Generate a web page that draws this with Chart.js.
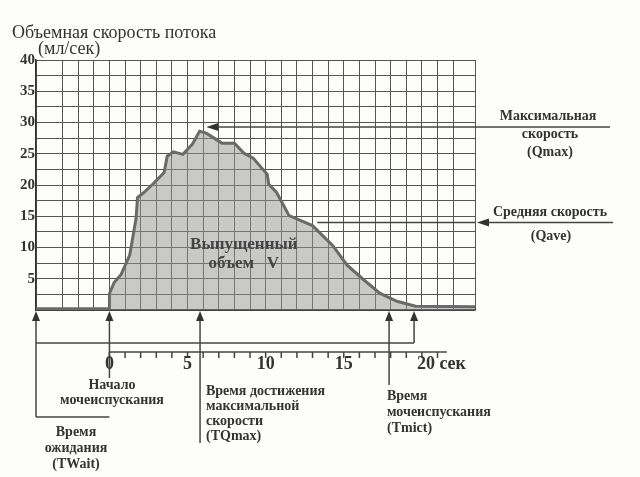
<!DOCTYPE html>
<html><head><meta charset="utf-8">
<script src="https://cdn.jsdelivr.net/npm/chart.js@4"></script>
<style>body{margin:0;background:#fdfdfb}canvas{display:block}</style>
</head><body>
<div style="width:640px;height:477px"><canvas id="c"></canvas></div>
<script>
const times=[-4.7,0,0,0.3,0.75,1.3,1.7,1.8,2.2,2.8,3.5,3.7,4.1,4.7,5.3,5.77,6.2,7.2,8.0,8.6,9.2,10.1,10.2,10.7,11.5,13.0,14.3,15.2,16.2,17.3,18.4,19.6,23.4];
const flow=[0.2,0.2,2.6,4.4,5.7,8.8,14.6,18,18.8,20.2,22,24.6,25.3,24.9,26.5,28.6,28.3,26.7,26.7,25.1,24.3,21.7,20.1,18.8,15.1,13.5,10.3,7.2,5.0,2.7,1.4,0.6,0.5];
const yTickLabels=['5','10','15','20','25','30','35','40'];
const xTickLabels=['0','5','10','15','20 сек'];
const qmax=29.3, qave=14.0;
const markers=[-4.7,0,5.8,17.9,19.5];
const pts=times.map((t,i)=>({x:t,y:flow[i]}));
const F='"Liberation Serif", serif';
function arrowUp(ctx,x,y){ctx.beginPath();ctx.moveTo(x,y);ctx.lineTo(x-4,y+10);ctx.lineTo(x+4,y+10);ctx.closePath();ctx.fill();}
function arrowLeft(ctx,x,y){ctx.beginPath();ctx.moveTo(x,y);ctx.lineTo(x+12,y-4);ctx.lineTo(x+12,y+4);ctx.closePath();ctx.fill();}
const deco={id:'deco',afterDraw(ch){
 const c=ch.ctx,xs=ch.scales.x,ys=ch.scales.y,a=ch.chartArea;
 const X=v=>xs.getPixelForValue(v),Y=v=>ys.getPixelForValue(v);
 c.save();c.fillStyle='#333';c.strokeStyle='#444';c.lineWidth=1.5;
 c.font='18px '+F;c.textAlign='left';c.textBaseline='alphabetic';
 c.fillText('Объемная скорость потока',12,38);c.fillText('(мл/сек)',38,54);
 c.font='bold 15px '+F;c.textAlign='right';c.textBaseline='middle';
 yTickLabels.forEach(l=>c.fillText(l,a.left-1,Y(+l)));
 const ym=Y(qmax),ya=Y(qave);
 c.beginPath();c.moveTo(X(6.2)+10,ym);c.lineTo(610,ym);c.stroke();arrowLeft(c,X(6.2),ym);
 c.beginPath();c.moveTo(X(13.3),ya);c.lineTo(a.right,ya);c.moveTo(a.right+12,ya);c.lineTo(613,ya);c.stroke();arrowLeft(c,a.right+2,ya);
 c.font='bold 14px '+F;c.textAlign='center';c.textBaseline='middle';
 c.fillText('Максимальная',548,116);c.fillText('скорость',550,134);c.fillText('(Qmax)',550,152);
 c.fillText('Средняя скорость',550,212);c.fillText('(Qave)',551,236);
 const b=a.bottom+1;
 const ends=[417,378,443,385,343];
 markers.forEach((m,i)=>{const x=X(m);c.beginPath();c.moveTo(x,b+8);c.lineTo(x,ends[i]);c.stroke();arrowUp(c,x,b);});
 c.beginPath();c.moveTo(X(markers[0]),417);c.lineTo(X(0),417);c.stroke();
 c.beginPath();c.moveTo(X(markers[0]),343);c.lineTo(X(markers[4]),343);c.stroke();
 c.beginPath();c.moveTo(X(0),352);c.lineTo(X(21.6),352);
 for(let t=0;t<=21;t++){c.moveTo(X(t),352);c.lineTo(X(t),358);}c.stroke();
 c.font='bold 18px '+F;c.textBaseline='middle';
 xTickLabels.forEach((l,i)=>{c.textAlign=i==4?'left':'center';c.fillText(l,i==4?X(20)-5:X(i*5),364);});
 c.font='bold 14px '+F;c.textAlign='center';c.textBaseline='middle';
 c.fillText('Начало',112,385);c.fillText('мочеиспускания',112,400);
 c.fillText('Время',76,432);c.fillText('ожидания',76,448);c.fillText('(TWait)',76,464);
 c.textAlign='left';
 ['Время достижения','максимальной','скорости','(TQmax)'].forEach((s,i)=>c.fillText(s,206,391+i*15));
 ['Время','мочеиспускания','(Tmict)'].forEach((s,i)=>c.fillText(s,387,396+i*16));
 c.font='bold 17px '+F;c.fillStyle='#444';c.textAlign='center';
 c.fillText('Выпущенный',X(8.6),Y(10.4));c.fillText('объем   V',X(8.6),Y(7.5));
 c.restore();}};
new Chart(document.getElementById('c'),{type:'line',
 data:{datasets:[{data:pts,borderColor:'#6a6a6a',borderWidth:3,backgroundColor:'rgba(150,150,150,0.5)',fill:'origin',pointRadius:0,tension:0}]},
 options:{responsive:true,maintainAspectRatio:false,animation:false,
  layout:{padding:{left:36,top:60,right:165,bottom:167}},
  plugins:{legend:{display:false},tooltip:{enabled:false}},
  scales:{x:{type:'linear',min:-4.7,max:23.4,ticks:{display:false,stepSize:1},grid:{color:'#555',lineWidth:1,drawTicks:false},border:{color:'#333',width:1.5}},
   y:{min:0,max:40,ticks:{display:false,stepSize:2.5},grid:{color:'#555',lineWidth:1,drawTicks:false},border:{color:'#333',width:1.5}}}},
 plugins:[deco]});
</script></body></html>
